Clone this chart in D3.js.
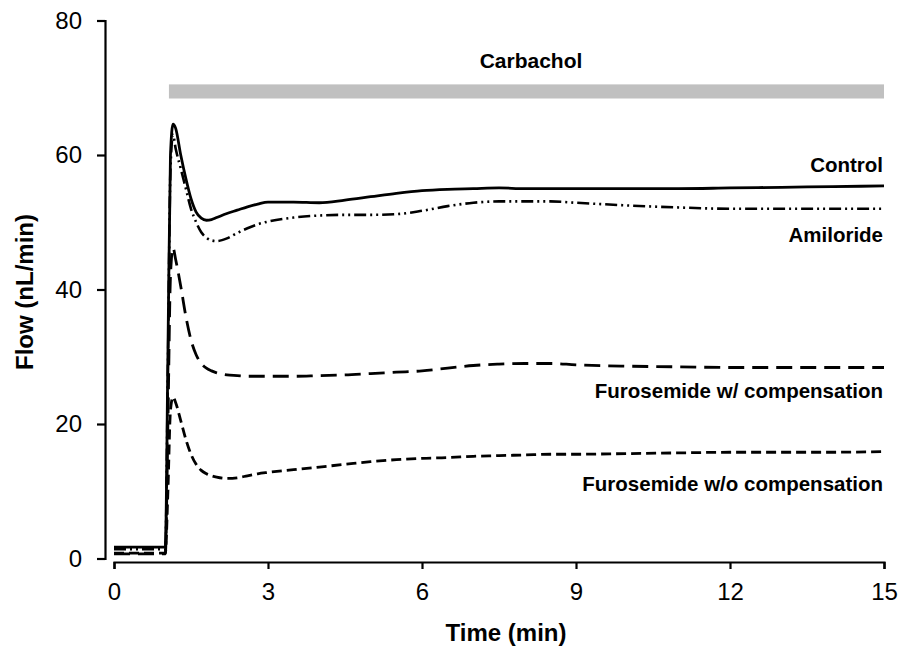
<!DOCTYPE html>
<html>
<head>
<meta charset="utf-8">
<script src="https://cdn.jsdelivr.net/npm/d3@7"></script>
<style>
  html, body { margin: 0; padding: 0; background: #fff; }
  svg { display: block; font-family: "Liberation Sans", Arial, sans-serif; }
</style>
</head>
<body>
<svg id="chart" width="899" height="660"></svg>
<script>
// Sampling times (min)
const time = [0, 0.5, 1.0, 1.05, 1.1, 1.15, 1.2, 1.3, 1.4, 1.5, 1.6, 1.7, 1.8, 1.9, 2.0,
  2.2, 2.4, 2.6, 2.8, 3.0, 3.5, 4.0, 4.5, 5.0, 5.5, 6.0, 6.5, 7.0, 7.5, 8.0, 8.5, 9.0,
  10, 11, 12, 13, 14, 15];

// Flow (nL/min) for each condition
const control = [1.7, 1.7, 1.7, 30, 60, 64.6, 64.0, 60.0, 56.5, 53.5, 51.5, 50.6, 50.3, 50.4, 50.7,
  51.3, 51.8, 52.3, 52.7, 53.0, 53.0, 52.9, 53.3, 53.8, 54.3, 54.7, 54.9, 55.0, 55.1, 55.0, 55.0, 55.0,
  55.0, 55.0, 55.1, 55.2, 55.3, 55.4];
const amiloride = [1.4, 1.4, 1.4, 28, 58, 63.0, 61.0, 58.0, 55.0, 52.0, 50.0, 48.5, 47.7, 47.3, 47.2,
  47.6, 48.4, 49.1, 49.7, 50.1, 50.7, 51.0, 51.1, 51.1, 51.2, 51.7, 52.4, 52.9, 53.1, 53.1, 53.1, 52.9,
  52.5, 52.2, 52.0, 52.0, 52.0, 52.0];
const furoWith = [0.7, 0.7, 0.7, 20, 42, 46.2, 44.5, 40.5, 36.0, 32.5, 30.3, 29.0, 28.3, 27.9, 27.6,
  27.3, 27.2, 27.1, 27.1, 27.1, 27.1, 27.2, 27.3, 27.5, 27.7, 27.9, 28.3, 28.7, 28.9, 29.0, 29.0, 28.8,
  28.6, 28.5, 28.4, 28.4, 28.4, 28.4];
const furoWithout = [0.8, 0.8, 0.8, 10, 22, 24.0, 23.2, 20.5, 17.7, 15.5, 14.0, 13.1, 12.6, 12.3, 12.1,
  11.9, 12.0, 12.3, 12.6, 12.8, 13.2, 13.6, 14.0, 14.4, 14.7, 14.9, 15.0, 15.2, 15.3, 15.4, 15.5, 15.5,
  15.6, 15.7, 15.8, 15.8, 15.8, 15.9];

const seriesNames = ["Control", "Amiloride", "Furosemide w/ compensation", "Furosemide w/o compensation"];
const seriesValues = [control, amiloride, furoWith, furoWithout];

// Carbachol application period (min) and band level (nL/min)
const carbachol = { label: "Carbachol", start: 1.07, end: 15, low: 68.4, high: 70.5 };

const xTicks = [0, 3, 6, 9, 12, 15];
const yTicks = [0, 20, 40, 60, 80];

const svg = d3.select("#chart");

const x = d3.scaleLinear().domain([0, 15]).range([114, 884]);
const y = d3.scaleLinear().domain([0, 80]).range([558.5, 20.5]);

// Carbachol bar
svg.append("rect")
  .attr("x", x(carbachol.start))
  .attr("width", x(carbachol.end) - x(carbachol.start))
  .attr("y", y(carbachol.high))
  .attr("height", y(carbachol.low) - y(carbachol.high))
  .attr("fill", "#c0c0c0");
svg.append("text")
  .attr("x", 531).attr("y", 68)
  .attr("text-anchor", "middle")
  .attr("font-size", 21).attr("font-weight", "bold")
  .text(carbachol.label);

// Axes
const yAxis = d3.axisLeft(y).tickValues(yTicks).tickSize(8).tickSizeOuter(8).tickPadding(15);
const xAxis = d3.axisBottom(x).tickValues(xTicks).tickSize(7).tickSizeOuter(7).tickPadding(14);

const gy = svg.append("g").attr("transform", "translate(105,0)").call(yAxis);
const gx = svg.append("g").attr("transform", "translate(0,562)").call(xAxis);
[gx, gy].forEach(g => {
  g.selectAll("path, line").attr("stroke", "#000").attr("stroke-width", 2.2);
  g.selectAll("text").attr("font-size", 24).attr("fill", "#000")
    .attr("font-family", "'Liberation Sans', Arial, sans-serif");
});

// Axis titles
svg.append("text")
  .attr("x", 506).attr("y", 641)
  .attr("text-anchor", "middle")
  .attr("font-size", 24).attr("font-weight", "bold")
  .text("Time (min)");
svg.append("text")
  .attr("transform", "translate(33,292) rotate(-90)")
  .attr("text-anchor", "middle")
  .attr("font-size", 24).attr("font-weight", "bold")
  .text("Flow (nL/min)");

// Traces
const styles = [
  { dash: null, width: 2.8 },
  { dash: "12,4,2,4,2,4", width: 2.6 },
  { dash: "16,8", width: 2.8 },
  { dash: "10,5", width: 2.8 }
];

const line = d3.line()
  .x(d => x(d[0]))
  .y(d => y(d[1]))
  .curve(d3.curveMonotoneX);

seriesValues.forEach((vals, i) => {
  const pts = time.map((t, j) => [t, vals[j]]);
  svg.append("path")
    .datum(pts)
    .attr("fill", "none")
    .attr("stroke", "#000")
    .attr("stroke-width", styles[i].width)
    .attr("stroke-dasharray", styles[i].dash)
    .attr("stroke-linejoin", "round")
    .attr("d", line);
});

// Series labels
const labelPos = [
  { y: 172 },
  { y: 242 },
  { y: 398 },
  { y: 491 }
];
seriesNames.forEach((name, i) => {
  svg.append("text")
    .attr("x", 883).attr("y", labelPos[i].y)
    .attr("text-anchor", "end")
    .attr("font-size", 20.5).attr("font-weight", "bold")
    .text(name);
});
</script>
</body>
</html>
